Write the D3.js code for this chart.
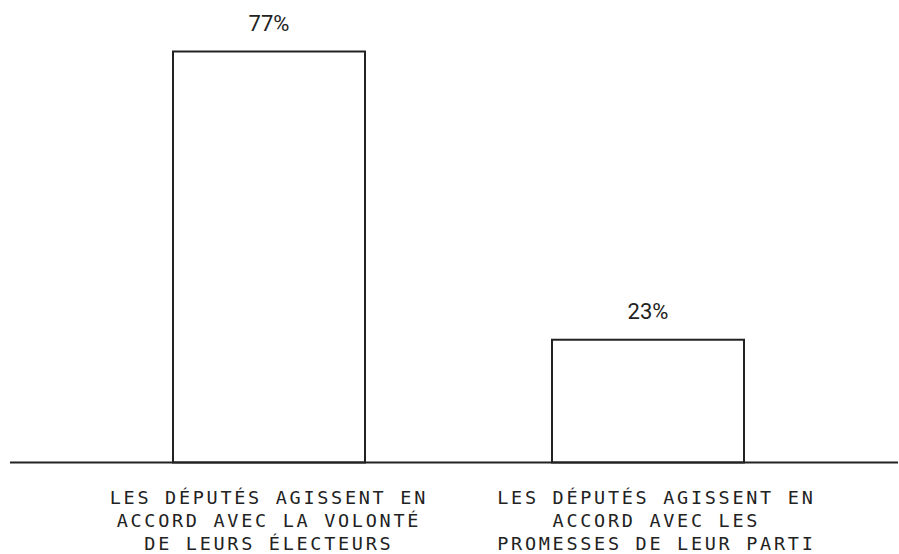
<!DOCTYPE html>
<html>
<head>
<meta charset="utf-8">
<script src="https://cdn.jsdelivr.net/npm/d3@7"></script>
<style>
  body { margin: 0; background: #fff; }
  .value { font-family: Roboto, "Noto Sans", sans-serif; font-size: 22px; fill: #222; }
  .cat { font-family: "DejaVu Sans Mono", monospace; font-size: 18.5px; fill: #222; letter-spacing: 2.7px; }
</style>
</head>
<body>
<div id="chart"></div>
<script>
// data
var categories = ["a", "b"];
var values = [77, 23];
var valueLabels = ["77%", "23%"];
var catLabels = [
    ["LES DÉPUTÉS AGISSENT EN", "ACCORD AVEC LA VOLONTÉ", "DE LEURS ÉLECTEURS"],
    ["LES DÉPUTÉS AGISSENT EN", "ACCORD AVEC LES", "PROMESSES DE LEUR PARTI"]
];

var svgWidth = 899;
var svgHeight = 554;
var baseY = 462.5;

var svg = d3.select("#chart").append("svg")
    .attr("width", svgWidth)
    .attr("height", svgHeight);

var xScale = d3.scaleBand()
    .domain(categories)
    .range([97.2, 819.8])
    .paddingInner(0.4934)
    .paddingOuter(0.2);

// the category labels sit a bit wider apart than the bars
var labelScale = d3.scalePoint()
    .domain(categories)
    .range([267.5, 655]);

var yScale = d3.scaleLinear()
    .domain([0, 77])
    .range([baseY, 51.5]);

var data = categories.map((c, i) => ({ cat: c, value: values[i], label: valueLabels[i], lines: catLabels[i] }));

// bars
svg.selectAll("rect.bar")
    .data(data)
    .enter()
    .append("rect")
    .attr("class", "bar")
    .attr("x", d => xScale(d.cat))
    .attr("y", d => yScale(d.value))
    .attr("width", xScale.bandwidth())
    .attr("height", d => baseY - yScale(d.value))
    .attr("fill", "#fff")
    .attr("stroke", "#222")
    .attr("stroke-width", 2);

// baseline
svg.append("line")
    .attr("x1", 10)
    .attr("x2", 898)
    .attr("y1", baseY)
    .attr("y2", baseY)
    .attr("stroke", "#222")
    .attr("stroke-width", 2);

// value labels
svg.selectAll("text.value")
    .data(data)
    .enter()
    .append("text")
    .attr("class", "value")
    .attr("x", d => xScale(d.cat) + xScale.bandwidth() / 2)
    .attr("y", d => yScale(d.value) - 21)
    .attr("text-anchor", "middle")
    .text(d => d.label);

// category labels
var cats = svg.selectAll("text.cat")
    .data(data)
    .enter()
    .append("text")
    .attr("class", "cat")
    .attr("text-anchor", "middle");

cats.selectAll("tspan")
    .data(d => d.lines.map(l => ({ cat: d.cat, text: l })))
    .enter()
    .append("tspan")
    .attr("x", d => labelScale(d.cat) + 1.35)
    .attr("y", (d, i) => 503.5 + i * 23.4)
    .text(d => d.text);
</script>
</body>
</html>
